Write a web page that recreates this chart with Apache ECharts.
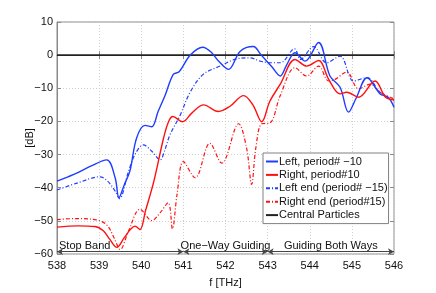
<!DOCTYPE html>
<html><head><meta charset="utf-8">
<script src="https://cdn.jsdelivr.net/npm/echarts@6/dist/echarts.min.js"></script>
<style>html,body{margin:0;padding:0;background:#fff}#c{width:436px;height:293px}</style>
</head><body><div id="c"></div>
<script>
var xTicks = [538, 539, 540, 541, 542, 543, 544, 545, 546];
var yTicks = [10, 0, -10, -20, -30, -40, -50, -60];

var left10F = [538.0,538.4,538.8,539.18,539.38,539.47,539.6,539.73,539.89,540.09,540.25,540.4,540.57,540.76,540.9,541.16,541.46,541.65,541.85,542.07,542.35,542.66,542.85,543.1,543.3,543.45,543.65,543.89,544.21,544.48,544.72,544.92,545.1,545.36,545.67,545.86,546.0];
var left10Db = [-38,-36,-33.5,-31.6,-37,-43,-39,-35,-25,-21.2,-21.6,-17,-12,-5.8,-5,0,2.4,1,-2,-4.3,1.2,2.6,0,-3.5,-6.3,-3,0.7,-1.8,3.8,-6.3,-9.7,-17.2,-13,-6.8,-11.7,-12.7,-15.7];

var right10F = [538.0,538.5,538.9,539.1,539.25,539.42,539.6,539.75,539.85,539.97,540.1,540.3,540.53,540.65,540.75,540.98,541.2,541.48,541.83,542.1,542.43,542.65,542.86,543.05,543.3,543.65,543.93,544.21,544.45,544.72,544.88,545.16,545.55,545.8,546.0];
var right10Db = [-51.9,-51.5,-51.7,-53,-55.5,-58,-55,-52.5,-51.6,-52.6,-47,-38,-25,-20,-18.5,-20.1,-17.5,-15,-17,-15.5,-12.2,-15,-20.1,-14,-8.75,-1.3,-3.3,-1.6,-7.3,-11.7,-11.2,-12.7,-7.8,-12.7,-13.5];

var left15F = [538.0,538.5,539.02,539.2,539.38,539.48,539.7,539.85,540.05,540.25,540.45,540.55,540.68,540.92,541.16,541.47,541.87,542.27,542.58,542.82,543.06,543.3,543.64,543.78,544.09,544.4,544.72,545.04,545.36,545.67,546.0];
var left15Db = [-40.7,-38.5,-36.7,-38,-41,-43.3,-35,-30,-27.1,-29,-31.6,-29,-24.1,-18.2,-11.2,-5.8,-3.3,-1.1,-0.8,-1.8,-2.3,-2.3,1.9,-1.3,2.6,-2.3,-0.3,-7.8,-6.8,-11.2,-13.7];

var right15F = [538.0,538.5,539.0,539.2,539.35,539.5,539.7,539.97,540.25,540.45,540.64,540.74,540.85,541.0,541.28,541.63,541.91,542.31,542.5,542.62,542.72,542.86,543.05,543.3,543.65,543.93,544.21,544.45,544.6,544.88,545.16,545.44,545.67,546.0];
var right15Db = [-49.6,-49.3,-49.9,-51.5,-55,-58.6,-53,-46.5,-49.9,-47.5,-44.5,-52.4,-42,-32.1,-37,-26.6,-32.6,-20.7,-28,-39,-28,-20.7,-20.5,-12.2,-3.8,-6.3,-3.3,-7.8,-7.3,-5.1,-10.2,-8.75,-11.2,-13.2];

var centralF = [538, 546];
var centralDb = [0, 0];

var seriesNames = ['Left, period# \u221210', 'Right, period#10', 'Left end (period# \u221215)', 'Right end (period#15)', 'Central Particles'];
var regionNames = ['Stop Band', 'One\u2212Way Guiding', 'Guiding Both Ways'];
var regionBounds = [538, 541, 543, 546];
var regionLevel = -59.3;

function pairs(f, d) { return f.map(function (v, i) { return [v, d[i]]; }); }
function minus(v) { return String(v).replace('-', '\u2212'); }

var FONT = 'Liberation Sans';
var chart = echarts.init(document.getElementById('c'), null, { renderer: 'canvas' });

var blue = '#1f3dff', red = '#ff1010';

var regionLines = [];
for (var i = 0; i < regionNames.length; i++) {
  regionLines.push([
    { coord: [regionBounds[i], regionLevel], label: { formatter: regionNames[i], position: i === 0 ? 'insideStartTop' : 'insideMiddleTop' } },
    { coord: [regionBounds[i + 1], regionLevel] }
  ]);
}

chart.setOption({
  animation: false,
  textStyle: { fontFamily: FONT },
  grid: { left: 57, right: 42, top: 22, bottom: 36, show: true, borderColor: '#8a8a8a', borderWidth: 1 },
  legend: {
    data: seriesNames, orient: 'vertical', left: 263, top: 153,
    itemWidth: 12, itemHeight: 8, itemGap: 2.4,
    itemStyle: { opacity: 0 },
    padding: [3, 1, 3, 2], borderColor: '#808080', borderWidth: 1, backgroundColor: '#fff',
    textStyle: { fontFamily: FONT, fontSize: 11, color: '#111', padding: [0, 0, 0, -4] }
  },
  xAxis: [{
    type: 'value', min: 538, max: 546, interval: 1,
    name: 'f [THz]', nameLocation: 'middle', nameGap: 23,
    nameTextStyle: { fontFamily: FONT, fontSize: 11, color: '#111' },
    axisLine: { show: true, lineStyle: { color: '#8a8a8a' } },
    axisTick: { inside: true, length: 4, lineStyle: { color: '#8a8a8a' } },
    axisLabel: { fontFamily: FONT, fontSize: 11, color: '#111', margin: 6,
      customValues: xTicks },
    splitLine: { show: true, lineStyle: { type: [1, 2], color: '#d0d0d0' } }
  }, {
    type: 'value', position: 'top', min: 538, max: 546, interval: 1,
    axisLine: { show: false }, axisTick: { inside: true, length: 4, lineStyle: { color: '#8a8a8a' } },
    axisLabel: { show: false }, splitLine: { show: false }
  }],
  yAxis: [{
    type: 'value', min: -60, max: 10, interval: 10,
    name: '[dB]', nameLocation: 'middle', nameGap: 22, nameRotate: 90, nameMoveOverlap: false,
    nameTextStyle: { fontFamily: FONT, fontSize: 11, color: '#111' },
    axisLine: { show: true, lineStyle: { color: '#8a8a8a' } },
    axisTick: { inside: true, length: 4, lineStyle: { color: '#8a8a8a' } },
    axisLabel: { fontFamily: FONT, fontSize: 11, color: '#111', margin: 4,
      customValues: yTicks, formatter: function (v) { return minus(v); } },
    splitLine: { show: true, lineStyle: { type: [1, 2], color: '#d0d0d0' } }
  }, {
    type: 'value', position: 'right', min: -60, max: 10, interval: 10,
    axisLine: { show: false }, axisTick: { inside: true, length: 4, lineStyle: { color: '#8a8a8a' } },
    axisLabel: { show: false }, splitLine: { show: false }
  }],
  series: [
    { name: seriesNames[0], type: 'line', data: pairs(left10F, left10Db), smooth: 0.35, symbol: 'none',
      lineStyle: { color: blue, width: 1.4 }, itemStyle: { color: blue }, z: 5 },
    { name: seriesNames[1], type: 'line', data: pairs(right10F, right10Db), smooth: 0.35, symbol: 'none',
      lineStyle: { color: red, width: 1.4 }, itemStyle: { color: red }, z: 5 },
    { name: seriesNames[2], type: 'line', data: pairs(left15F, left15Db), smooth: 0.35, symbol: 'none',
      lineStyle: { color: blue, width: 1.2, type: [4, 2, 1, 2] }, itemStyle: { color: blue }, z: 4 },
    { name: seriesNames[3], type: 'line', data: pairs(right15F, right15Db), smooth: 0.35, symbol: 'none',
      lineStyle: { color: red, width: 1.2, type: [4, 2, 1, 2] }, itemStyle: { color: red }, z: 4 },
    { name: seriesNames[4], type: 'line', data: pairs(centralF, centralDb), symbol: 'none',
      lineStyle: { color: '#222', width: 1.6 }, itemStyle: { color: '#222' }, z: 3 },
    { name: 'regions', type: 'line', data: [], symbol: 'none',
      markLine: {
        silent: true, symbol: ['arrow', 'arrow'], symbolSize: [5, 6], precision: 2,
        lineStyle: { color: '#444', width: 1, type: 'solid' },
        label: { show: true, fontFamily: FONT, fontSize: 11, color: '#111', distance: [2, 0] },
        emphasis: { disabled: true },
        data: regionLines
      }
    }
  ]
});
</script></body></html>
